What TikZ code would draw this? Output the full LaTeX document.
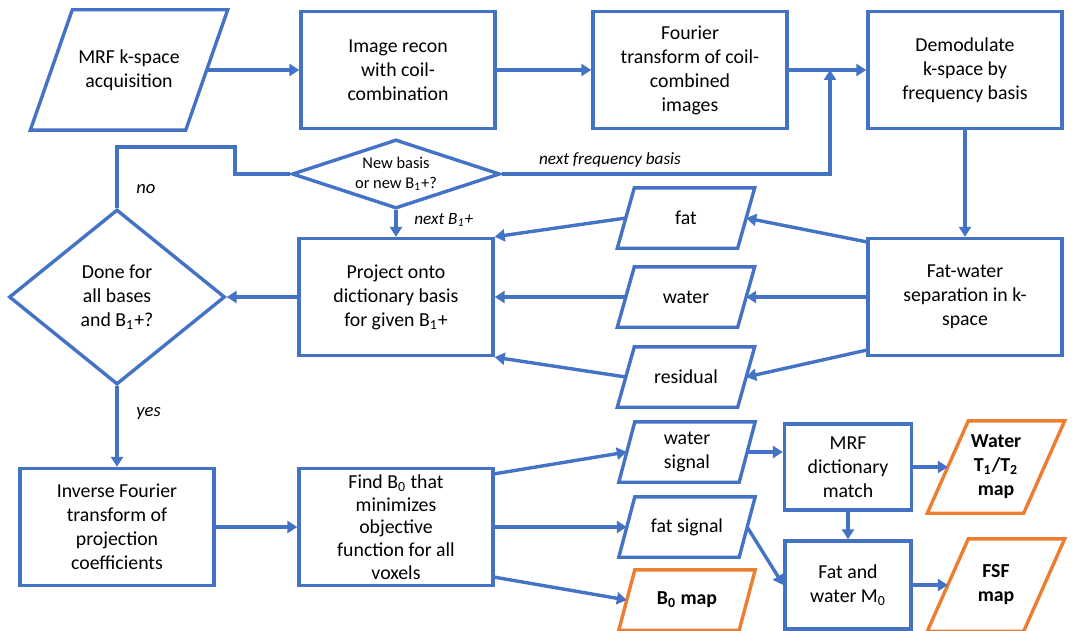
\documentclass[tikz,border=0pt]{standalone}
\usepackage{fontspec}
\setmainfont{Carlito}
\usetikzlibrary{shapes.geometric,arrows.meta}
\definecolor{flowblue}{RGB}{68,114,196}
\definecolor{maporange}{RGB}{237,125,49}
\begin{document}
\begin{tikzpicture}[x=0.5pt,y=-0.5pt,
    every node/.style={font=\fontsize{9.9}{12}\selectfont, align=center, line width=1.7pt},
    proc/.style={draw=flowblue, rectangle, minimum width=97pt, minimum height=58.5pt, inner sep=0pt},
    io/.style={rectangle, minimum width=58.5pt, minimum height=28.5pt, inner sep=0pt},
    bigio/.style={io, minimum width=76pt, minimum height=58.5pt},
    mapio/.style={io, minimum width=46.5pt, minimum height=44.5pt, font=\fontsize{9.9}{12}\selectfont\bfseries},
    decision/.style={draw=flowblue, diamond, inner sep=0pt},
    note/.style={font=\fontsize{8.6}{10}\selectfont\itshape},
    flow/.style={draw=flowblue, line width=1.7pt, -{Triangle[length=5pt,width=6pt]}},
    link/.style={draw=flowblue, line width=1.7pt}]
    \useasboundingbox (0,0) rectangle (1076,631);
    \node[bigio] (acq) at (129,70) {MRF k-space\\acquisition};
    \node[proc] (recon) at (398,70) {Image recon\\with coil-\\combination};
    \node[proc] (fft) at (690,70) {Fourier\\transform of coil-\\combined\\images};
    \node[proc] (demod) at (965,70) {Demodulate\\k-space by\\frequency basis};
    \node[decision, minimum width=104pt, minimum height=34.5pt, aspect=3, font=\fontsize{8.2}{10}\selectfont] (newb) at (396,174) {New basis\\or new B\textsubscript{1}+?};
    \node[decision, minimum width=108pt, minimum height=87.5pt, aspect=1.23] (done) at (117,297) {Done for\\all bases\\and B\textsubscript{1}+?};
    \node[proc] (proj) at (396,297) {Project onto\\dictionary basis\\for given B\textsubscript{1}+};
    \node[io] (fat) at (686,218) {fat};
    \node[io] (water) at (686,297) {water};
    \node[io] (resid) at (686,377) {residual};
    \node[proc] (fw) at (965,297) {Fat-water\\separation in k-\\space};
    \node[proc] (ift) at (117,527) {Inverse Fourier\\transform of\\projection\\coefficients};
    \node[proc, font=\fontsize{9.9}{11.3}\selectfont] (findb) at (396,527) {Find B\textsubscript{0} that\\minimizes\\objective\\function for all\\voxels};
    \node[io] (wsig) at (687,452) {water\\signal};
    \node[io] (fsig) at (687,527) {fat signal};
    \node[io, font=\fontsize{9.9}{12}\selectfont\bfseries] (b0map) at (687,600) {B\textsubscript{0} map};
    \node[proc, minimum width=63.5pt, minimum height=43pt] (match) at (848,467) {MRF\\dictionary\\match};
    \node[proc, minimum width=63pt, minimum height=44pt] (m0) at (848,585) {Fat and\\water M\textsubscript{0}};
    \node[mapio] (t12) at (996,467) {Water\\T\textsubscript{1}/T\textsubscript{2}\\map};
    \node[mapio] (fsf) at (996,585) {FSF\\map};
    \foreach \n/\s/\c in {acq/10.5/flowblue, fat/4.25/flowblue, water/4.25/flowblue, resid/4.25/flowblue,
        wsig/4/flowblue, fsig/4/flowblue, b0map/4/maporange, t12/10.25/maporange, fsf/10.25/maporange}
        \draw[\c, line width=1.7pt] ([xshift=-\s pt]\n.south west) -- ([xshift=\s pt]\n.north west)
            -- ([xshift=\s pt]\n.north east) -- ([xshift=-\s pt]\n.south east) -- cycle;
    \coordinate (fjoin) at (830,70);
    \coordinate (nbend) at (235,147);
    \draw[flow] (acq) -- (recon);
    \draw[flow] (recon) -- (fft);
    \draw[flow] (fft) -- (demod);
    \draw[flow] (newb.east) -| (fjoin);
    \node[note] (nextf) at (610,160) {next frequency basis};
    \draw[link] (newb.west) -| (nbend) -| (done.north);
    \node[note, anchor=west, font=\fontsize{9.3}{11}\selectfont\itshape] (no) at (128,189) {no};
    \draw[flow] (newb) -- (proj);
    \node[note, anchor=west] (nextb) at (406,220) {next B\textsubscript{1}+};
    \draw[flow] (proj) -- (done);
    \draw[flow] (done) -- (ift);
    \node[note, anchor=west, font=\fontsize{9.3}{11}\selectfont\itshape] (yes) at (128,413) {yes};
    \draw[flow] (demod) -- (fw);
    \draw[flow] ([yshift=-2.5pt]fw.north west) -- (fat.east);
    \draw[flow] (fw) -- (water);
    \draw[flow] ([yshift=3.5pt]fw.south west) -- (resid.east);
    \draw[flow] (fat.west) -- (proj.north east);
    \draw[flow] (water) -- (proj);
    \draw[flow] (resid.west) -- (proj.south east);
    \draw[flow] (ift) -- (findb);
    \draw[flow] ([yshift=-3.5pt]findb.north east) -- (wsig.west);
    \draw[flow] (findb) -- (fsig);
    \draw[flow] ([yshift=5pt]findb.south east) -- (b0map.west);
    \draw[flow] (wsig.east) -- (wsig.east -| match.west);
    \draw[flow] (match) -- (t12);
    \draw[flow] (match) -- (m0);
    \draw[flow] (fsig.east) -- (m0.west);
    \draw[flow] (m0) -- (fsf);
\end{tikzpicture}
\end{document}
